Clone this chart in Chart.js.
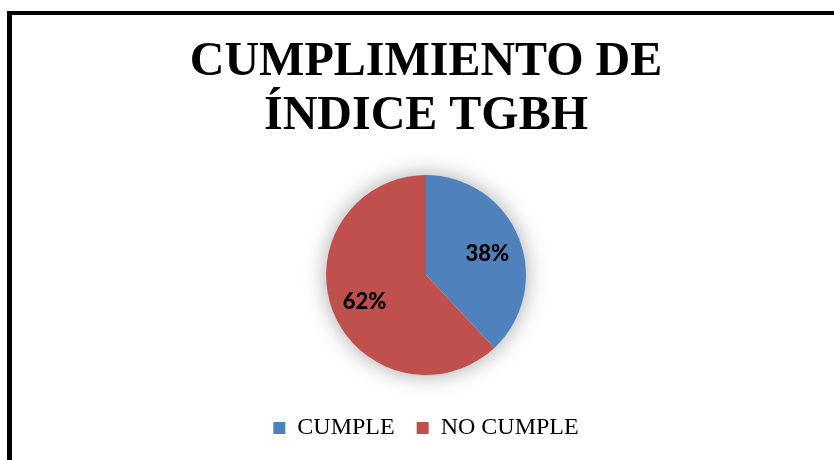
<!DOCTYPE html>
<html>
<head>
<meta charset="utf-8">
<script src="https://cdn.jsdelivr.net/npm/chart.js@4"></script>
<style>
    html, body { margin: 0; padding: 0; background: #fff; overflow: hidden; }
    #wrap { position: relative; width: 834px; height: 460px; }
    #frame {
        position: absolute; left: 7px; top: 11px; width: 900px; height: 500px;
        border-left: 5px solid #000; border-top: 4px solid #000;
    }
    #chart { position: absolute; left: 0; top: 0; }
</style>
</head>
<body>
<div id="wrap">
    <div id="frame"></div>
    <canvas id="chart" width="834" height="460"></canvas>
</div>
<script>
//Datos
const titleLines = ["CUMPLIMIENTO DE", "ÍNDICE TGBH"];
const categories = ["CUMPLE", "NO CUMPLE"];
const values = [38, 62];
const sliceColors = ["#4F81BD", "#C0504D"];

//Sombra difusa detrás del pastel
const pieGlow = {
    id: "pieGlow",
    beforeDatasetsDraw(chart) {
        const arc = chart.getDatasetMeta(0).data[0];
        if (!arc) return;
        const ctx = chart.ctx;
        ctx.save();
        ctx.shadowColor = "rgba(0,0,0,0.35)";
        ctx.shadowBlur = 22;
        ctx.fillStyle = "#ffffff";
        ctx.beginPath();
        ctx.arc(arc.x, arc.y, arc.outerRadius, 0, Math.PI * 2);
        ctx.fill();
        ctx.restore();
    }
};

//Etiquetas de porcentaje dentro de cada sector
const sliceLabels = {
    id: "sliceLabels",
    afterDatasetsDraw(chart) {
        const ctx = chart.ctx;
        const meta = chart.getDatasetMeta(0);
        ctx.save();
        ctx.font = "900 22px Lato, 'Open Sans', sans-serif";
        ctx.fillStyle = "#000";
        ctx.textAlign = "center";
        ctx.textBaseline = "middle";
        meta.data.forEach((arc, i) => {
            const p = arc.getProps(["x", "y", "startAngle", "endAngle", "outerRadius"]);
            const mid = (p.startAngle + p.endAngle) / 2;
            const r = p.outerRadius * 0.66;
            ctx.fillText(values[i] + "%", p.x + Math.cos(mid) * r, p.y + Math.sin(mid) * r + 3);
        });
        ctx.restore();
    }
};

new Chart(document.getElementById("chart"), {
    type: "pie",
    data: {
        labels: categories,
        datasets: [{
            data: values,
            backgroundColor: sliceColors,
            borderWidth: 0,
            radius: 100
        }]
    },
    options: {
        responsive: false,
        animation: false,
        layout: { padding: { left: 18, bottom: 10 } },
        plugins: {
            title: {
                display: true,
                text: titleLines,
                color: "#000",
                font: { family: "'Liberation Serif', 'Times New Roman', serif", size: 48, weight: "bold", lineHeight: 1.125 },
                padding: { top: 36, bottom: 12 }
            },
            legend: {
                position: "bottom",
                labels: {
                    color: "#000",
                    boxWidth: 12,
                    boxHeight: 12,
                    padding: 22,
                    font: { family: "'Liberation Serif', 'Times New Roman', serif", size: 24 }
                }
            },
            tooltip: { enabled: false }
        }
    },
    plugins: [pieGlow, sliceLabels]
});
</script>
</body>
</html>
